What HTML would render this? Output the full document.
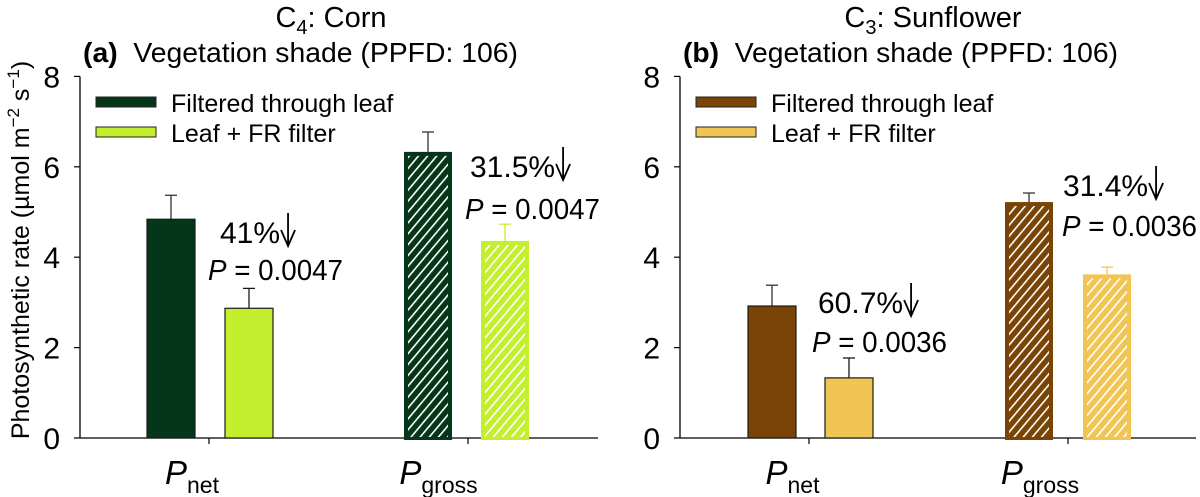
<!DOCTYPE html>
<html><head><meta charset="utf-8"><style>
body{margin:0;background:#fff;}
svg{display:block;font-family:"Liberation Sans",Arial,sans-serif;}
</style></head><body>
<svg id="chart" width="1200" height="497" viewBox="0 0 1200 497" xmlns="http://www.w3.org/2000/svg">
<defs>
<pattern id="hatch" patternUnits="userSpaceOnUse" width="7" height="7" patternTransform="rotate(40)">
<rect x="0" y="0" width="1.6" height="7" fill="#fff"/>
</pattern>
</defs>
<g id="root"></g>
</svg>
<script>
const categories = ["net", "gross"];
const corrValues = [4.84, 6.33];
const corrErr = [5.37, 6.77];
const corrFRValues = [2.87, 4.36];
const corrFRErr = [3.31, 4.73];
const sunValues = [2.92, 5.22];
const sunErr = [3.38, 5.42];
const sunFRValues = [1.33, 3.62];
const sunFRErr = [1.77, 3.78];
const yTicks = [0, 2, 4, 6, 8];

const NS = "http://www.w3.org/2000/svg";
const root = document.getElementById("root");
function mk(tag, attrs, parent, text) {
  const e = document.createElementNS(NS, tag);
  for (const k in attrs) e.setAttribute(k, attrs[k]);
  if (text !== undefined) e.textContent = text;
  (parent || root).appendChild(e);
  return e;
}
const y0 = 438, pxPerUnit = 45.2;
function yScale(v) { return y0 - v * pxPerUnit; }

const panels = [
  {id: "a", axisX: 80, axisEnd: 598, title: "Corn", label: "(a)", titleX: 331,
   darkCol: "#063619", lightCol: "#c3ef2e", lightEdge: "#1a1a1a", lightEdgeH: "#c3ef2e",
   vals: [corrValues, corrFRValues], errs: [corrErr, corrFRErr],
   groupX: [[147, 225], [404, 481]], barW: 48, tickX: [209, 468],
   ann: [{pct: "41%", x: 220, y: 243, px: 208, py: 280},
         {pct: "31.5%", x: 470, y: 177, px: 465, py: 219}]},
  {id: "b", axisX: 680, axisEnd: 1196, title: "Sunflower", label: "(b)", titleX: 933,
   darkCol: "#7a4406", lightCol: "#f1c553", lightEdge: "#1a1a1a", lightEdgeH: "#f1c553",
   vals: [sunValues, sunFRValues], errs: [sunErr, sunFRErr],
   groupX: [[748, 825], [1005, 1083]], barW: 48, tickX: [809, 1068],
   ann: [{pct: "60.7%", x: 818, y: 313, px: 812, py: 352},
         {pct: "31.4%", x: 1063, y: 196, px: 1062, py: 236}]}
];

panels.forEach(p => {
  const g = mk("g", {});
  
  
  const t = mk("text", {x: p.titleX, y: 27, "font-size": 29, "text-anchor": "middle"}, g);
  
  
  mk("tspan", {}, t, "C");
  mk("tspan", {"font-size": 20, dy: 7}, t, p.id === "a" ? "4" : "3");
  mk("tspan", {dy: -7}, t, ": " + p.title);
  const st = mk("text", {x: p.axisX + 3, y: 62, "font-size": 28, textLength: 435, lengthAdjust: "spacingAndGlyphs"}, g);
  
  
  mk("tspan", {"font-weight": "bold"}, st, p.label);
  mk("tspan", {}, st, "\u00a0 Vegetation shade (PPFD: 106)");
  const ya = mk("line", {x1: p.axisX, y1: yScale(8), x2: p.axisX, y2: y0, stroke: "#000", "stroke-width": 1.3}, g);
  
  
  const xa = mk("line", {x1: p.axisX, y1: y0, x2: p.axisEnd, y2: y0, stroke: "#000", "stroke-width": 1.3}, g);
  
  
  yTicks.forEach(v => {
    mk("line", {x1: p.axisX - 6, y1: yScale(v), x2: p.axisX, y2: yScale(v), stroke: "#000", "stroke-width": 1.2}, g);
    const tl = mk("text", {x: p.axisX - 20, y: yScale(v) + 11, "font-size": 30, "text-anchor": "end"}, g, String(v));
    
    
  });
  p.tickX.forEach(x => mk("line", {x1: x, y1: y0, x2: x, y2: y0 + 6, stroke: "#000", "stroke-width": 1.2}, g));
  categories.forEach((c, ci) => {
    const hatched = ci === 1;
    [0, 1].forEach(si => {
      const v = p.vals[si][ci], e = p.errs[si][ci];
      const x = p.groupX[ci][si], w = p.barW;
      const col = si === 0 ? p.darkCol : p.lightCol;
      const stroke = si === 0 ? "#1a1a1a" : (hatched ? p.lightEdgeH : p.lightEdge);
      const errCol = si === 0 ? "#333" : (hatched ? p.lightCol : "#1a1a1a");
      const el = mk("line", {x1: x + w / 2, y1: yScale(e), x2: x + w / 2, y2: yScale(v), stroke: errCol, "stroke-width": 1.3}, g);
      
      
      mk("line", {x1: x + w / 2 - 6, y1: yScale(e), x2: x + w / 2 + 6, y2: yScale(e), stroke: errCol, "stroke-width": 1.3}, g);
      if (hatched) {
        const r = mk("rect", {x: x + 2, y: yScale(v) + 2, width: w - 4, height: y0 - yScale(v) - 2, fill: col, stroke: col, "stroke-width": 4}, g);
        
        
        mk("rect", {x: x + 4, y: yScale(v) + 4, width: w - 8, height: y0 - yScale(v) - 5, fill: "url(#hatch)"}, g);
      } else {
        const r = mk("rect", {x: x, y: yScale(v), width: w, height: y0 - yScale(v), fill: col, stroke: stroke, "stroke-width": 1.2}, g);
        
        
      }
    });
    const cx = (p.groupX[ci][0] + p.groupX[ci][1] + p.barW) / 2;
    const xl = mk("text", {x: cx - (ci ? 28 : 18), y: 484, "font-size": 33, "text-anchor": "middle"}, g);
    
    
    mk("tspan", {"font-style": "italic"}, xl, "P");
    mk("tspan", {"font-size": 23, dy: 9}, xl, c);
  });
  p.ann.forEach(a => {
    const at = mk("text", {x: a.x, y: a.y, "font-size": 30}, g, a.pct);
    
    
    const w = at.getComputedTextLength();
    const ax = a.x + w + 8;
    mk("path", {d: `M${ax},${a.y-30} L${ax},${a.y+3} M${ax-7},${a.y-13} L${ax},${a.y+3} L${ax+7},${a.y-13}`, stroke: "#000", "stroke-width": 1.8, fill: "none"}, g);
    const pt = mk("text", {x: a.px, y: a.py, "font-size": 29, textLength: 135, lengthAdjust: "spacingAndGlyphs"}, g);
    
    
    mk("tspan", {"font-style": "italic"}, pt, "P");
    mk("tspan", {}, pt, " = 0.00" + (p.id === "a" ? "47" : "36"));
  });
  const lg = mk("g", {}, g);
  
  
  const lx = p.axisX + 16;
  const sw1 = mk("rect", {x: lx, y: 97, width: 60, height: 10, fill: p.darkCol, stroke: "#222", "stroke-width": 1}, lg);
  
  
  mk("text", {x: lx + 75, y: 112, "font-size": 25}, lg, "Filtered through leaf");
  const sw2 = mk("rect", {x: lx, y: 127, width: 60, height: 10, fill: p.lightCol, stroke: "#222", "stroke-width": 1}, lg);
  
  
  mk("text", {x: lx + 75, y: 142, "font-size": 25}, lg, "Leaf + FR filter");
});
const yt = mk("text", {x: 0, y: 0, "font-size": 25, "text-anchor": "middle", transform: "translate(29,250) rotate(-90)"});


mk("tspan", {}, yt, "Photosynthetic rate (\u00b5mol m");
mk("tspan", {"font-size": 17, dy: -10}, yt, "\u22122");
mk("tspan", {dy: 10}, yt, " s");
mk("tspan", {"font-size": 17, dy: -10}, yt, "\u22121");
mk("tspan", {dy: 10}, yt, ")");
</script>
</body></html>
